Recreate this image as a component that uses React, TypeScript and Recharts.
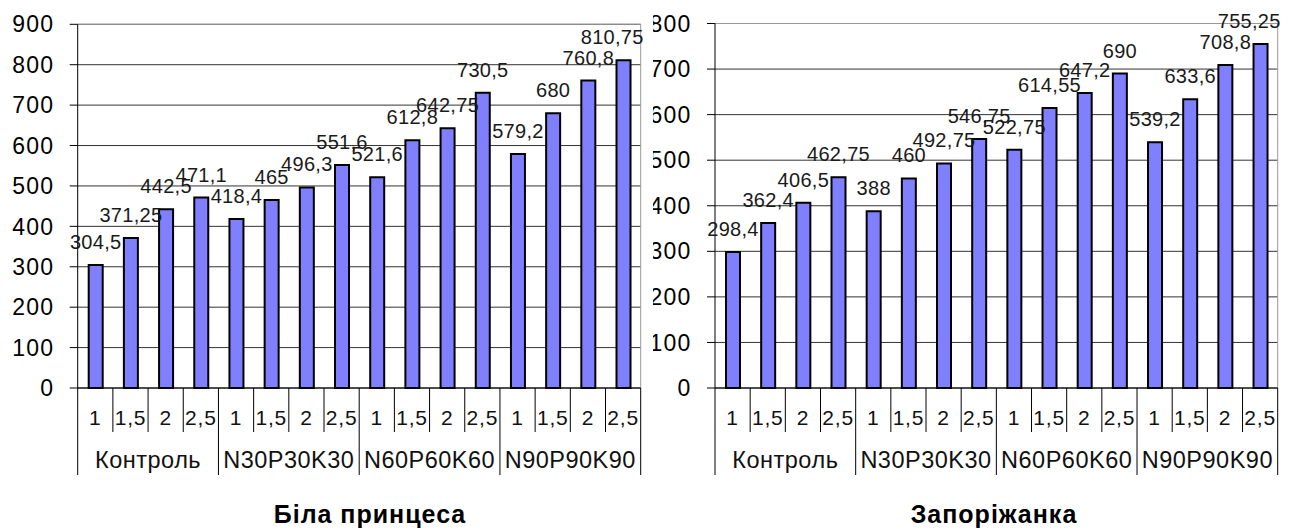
import React from "react"
import { Bar, BarChart, CartesianGrid, LabelList, ReferenceLine, XAxis, YAxis } from "recharts"

// fertiliser background and seeding dose
const groups = ["Контроль", "N30P30K30", "N60P60K60", "N90P90K90"]
const doses = ["1", "1,5", "2", "2,5"]

// yield per variety, one value per group/dose pair
const bilaPrintsesa = [304.5, 371.25, 442.5, 471.1, 418.4, 465, 496.3, 551.6, 521.6, 612.8, 642.75, 730.5, 579.2, 680, 760.8, 810.75]
const zaporizhanka = [298.4, 362.4, 406.5, 462.75, 388, 460, 492.75, 546.75, 522.75, 614.55, 647.2, 690, 539.2, 633.6, 708.8, 755.25]

const leftTicks = [0, 100, 200, 300, 400, 500, 600, 700, 800, 900]
const rightTicks = [0, 100, 200, 300, 400, 500, 600, 700, 800]

const FONT = '"Liberation Sans", Arial, sans-serif'
const CHART_H = 529
const X_AXIS_H = 141
const PLOT_BOTTOM = CHART_H - X_AXIS_H
const MINOR_DROP = 44
const MAJOR_DROP = 87

const fmt = (v: number) => String(v).replace(".", ",")

function buildRows(values: number[]) {
  return values.map((v, i) => ({
    key: `${groups[Math.floor(i / doses.length)]}-${doses[i % doses.length]}`,
    value: v,
  }))
}

interface PanelProps {
  values: number[]
  ticks: number[]
  left: number
  width: number
  yAxisWidth: number
  top: number
  right: number
}

function Panel({ values, ticks, left, width, yAxisWidth, top, right }: PanelProps) {
  const rows = buildRows(values)
  const plotRight = width - right
  const band = (plotRight - yAxisWidth) / rows.length
  const labelSize = 20
  const labelSpacing = 0.3

  const renderTick = (props: any) => {
    const { x } = props
    const i = props.index ?? props.payload?.index ?? 0
    const l = x - band / 2
    const groupStart = i % doses.length === 0
    const last = i === rows.length - 1
    return (
      <g>
        <line x1={l} x2={l} y1={PLOT_BOTTOM} y2={PLOT_BOTTOM + (groupStart ? MAJOR_DROP : MINOR_DROP)} stroke="#000" />
        {last && (
          <line x1={l + band} x2={l + band} y1={PLOT_BOTTOM} y2={PLOT_BOTTOM + MAJOR_DROP} stroke="#000" />
        )}
        <text x={x} y={PLOT_BOTTOM + 37} textAnchor="middle" fontSize={21} letterSpacing={0.8} fill="#111" fontFamily={FONT}>
          {doses[i % doses.length]}
        </text>
        {groupStart && (
          <text
            x={l + band * 2}
            y={PLOT_BOTTOM + 80}
            textAnchor="middle"
            fontSize={23.5}
            letterSpacing={0.5}
            fill="#111"
            fontFamily={FONT}
          >
            {groups[Math.floor(i / doses.length)]}
          </text>
        )}
      </g>
    )
  }

  // value labels sit above the bar; the last one is pulled back inside the frame
  const renderLabel = (props: any) => {
    const { x, y, width: w, value } = props
    const text = fmt(Number(value))
    let tw = 0
    for (const ch of text) tw += (ch === "," ? 0.278 : 0.556) * labelSize + labelSpacing
    let cx = Number(x) + Number(w) / 2
    const limit = plotRight + 3
    if (cx + tw / 2 > limit) cx = limit - tw / 2
    return (
      <text x={cx} y={Number(y) - 16} textAnchor="middle" fontSize={labelSize} letterSpacing={labelSpacing} fill="#1a1a1a" fontFamily={FONT}>
        {text}
      </text>
    )
  }

  return (
    <div style={{ position: "absolute", left, top: 0, width, height: CHART_H, overflow: "hidden" }}>
      <BarChart width={width} height={CHART_H} data={rows} margin={{ top, right, bottom: 0, left: 0 }}>
        <CartesianGrid vertical={false} stroke="#333" />
        <CartesianGrid horizontal={false} verticalPoints={[plotRight]} stroke="#999" />
        <XAxis
          dataKey="key"
          interval={0}
          height={X_AXIS_H}
          tickLine={false}
          axisLine={{ stroke: "#000" }}
          tick={renderTick}
        />
        <YAxis
          width={yAxisWidth}
          domain={[0, ticks[ticks.length - 1]]}
          ticks={ticks}
          interval={0}
          tickSize={8}
          tickMargin={15.5}
          axisLine={{ stroke: "#000" }}
          tickLine={{ stroke: "#000" }}
          tick={{ fontSize: 23, fill: "#000", fontFamily: FONT, letterSpacing: 1.2 }}
        />
        <ReferenceLine y={ticks[ticks.length - 1]} stroke="#999" />
        <Bar dataKey="value" fill="#8080ff" stroke="#000" strokeWidth={2} barSize={14} isAnimationActive={false}>
          <LabelList dataKey="value" content={renderLabel} />
        </Bar>
      </BarChart>
    </div>
  )
}

const titleStyle: React.CSSProperties = {
  position: "absolute",
  top: 502,
  width: 300,
  fontFamily: FONT,
  fontWeight: "bold",
  fontSize: 25,
  lineHeight: "25px",
  letterSpacing: 1,
  textAlign: "center",
  color: "#000",
}

export default function App() {
  return (
    <div style={{ position: "absolute", left: 0, top: 0, width: 1295, height: CHART_H, background: "#fff" }}>
      <Panel values={bilaPrintsesa} ticks={leftTicks} left={0} width={660} yAxisWidth={77.7} top={24.3} right={19.3} />
      <Panel values={zaporizhanka} ticks={rightTicks} left={653} width={642} yAxisWidth={62} top={23.5} right={17.3} />
      <div style={{ ...titleStyle, left: 370 - 150 }}>Біла принцеса</div>
      <div style={{ ...titleStyle, left: 994 - 150 }}>Запоріжанка</div>
    </div>
  )
}
